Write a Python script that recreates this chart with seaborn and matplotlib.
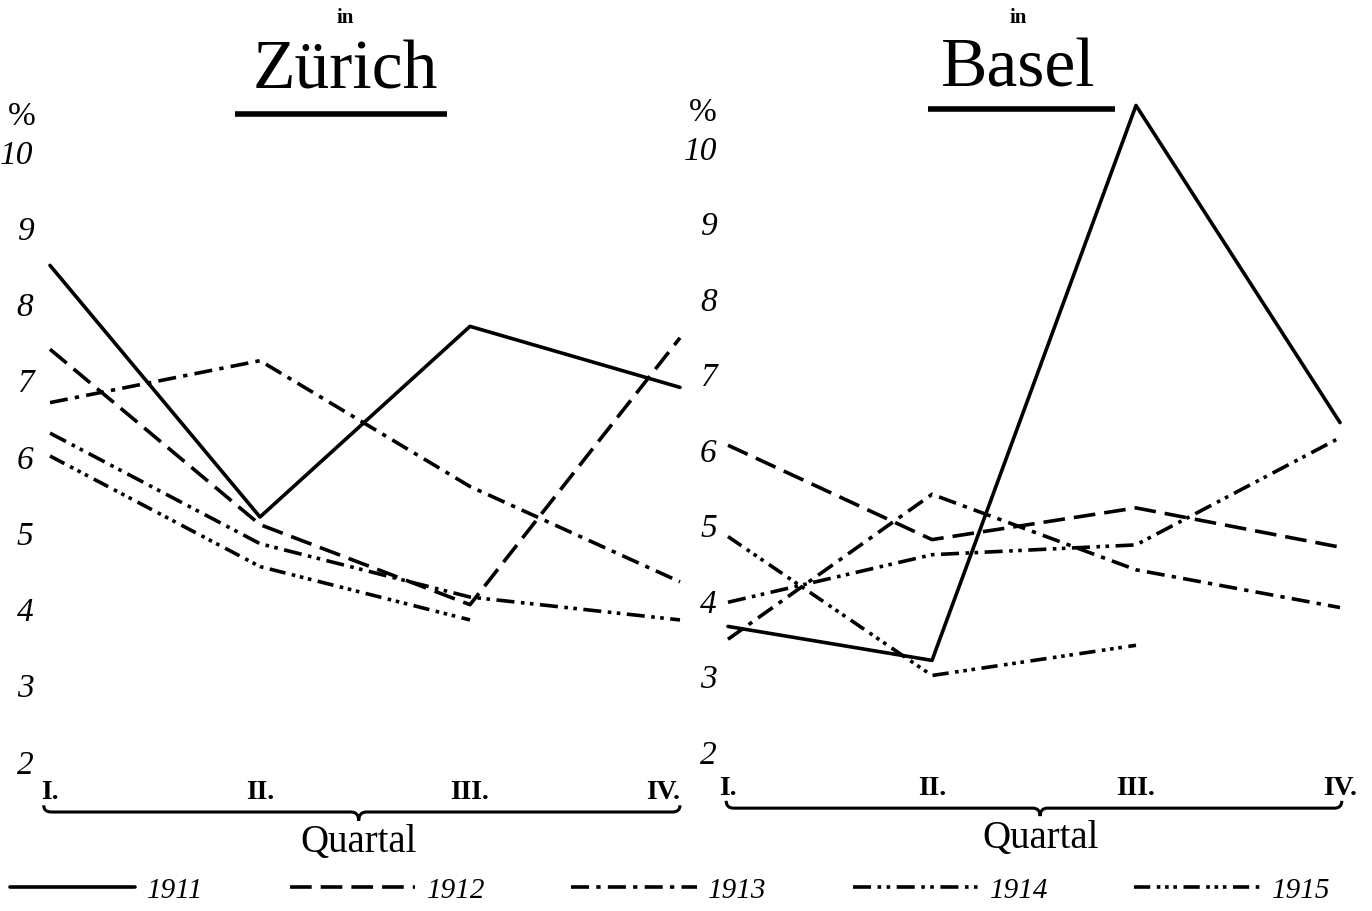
import numpy as np
import pandas as pd
import matplotlib
matplotlib.use("Agg")
import matplotlib.pyplot as plt
from matplotlib.path import Path
from matplotlib.patches import PathPatch
from matplotlib.lines import Line2D
import seaborn as sns

# ── data (percent per quarter) ───────────────
QUARTALS      = [1, 2, 3, 4]
QUARTAL_LBLS  = ["I.", "II.", "III.", "IV."]
YEARS         = ["1911", "1912", "1913", "1914", "1915"]
Y_TICKS       = [2, 3, 4, 5, 6, 7, 8, 9, 10]

zuerich_1911 = [8.5, 5.2, 7.7, 6.9]
zuerich_1912 = [7.4, 5.1, 4.05, 7.55]
zuerich_1913 = [6.7, 7.25, 5.6, 4.35]
zuerich_1914 = [6.3, 4.85, 4.15, 3.85]
zuerich_1915 = [6.0, 4.55, 3.85]

basel_1911 = [3.65, 3.2, 10.55, 6.35]
basel_1912 = [6.05, 4.8, 5.22, 4.7]
basel_1913 = [3.48, 5.4, 4.4, 3.9]
basel_1914 = [3.97, 4.6, 4.73, 6.15]
basel_1915 = [4.84, 3.0, 3.4]

DASHES = {
    "1911": "",
    "1912": (6, 2.5),
    "1913": (5, 2, 1.2, 2),
    "1914": (5, 1.8, 1, 1.5, 1, 1.8),
    "1915": (4.5, 1.8, 1, 1.3, 1, 1.3, 1, 1.8),
}


def to_long(series):
    rows = []
    for year, vals in zip(YEARS, series):
        for q, v in zip(QUARTALS, vals):
            rows.append({"quartal": q, "wert": v, "jahr": year})
    return pd.DataFrame(rows)


df_z = to_long([zuerich_1911, zuerich_1912, zuerich_1913, zuerich_1914, zuerich_1915])
df_b = to_long([basel_1911, basel_1912, basel_1913, basel_1914, basel_1915])

# ── style ────────────────────────────────────
sns.set_theme(style="white")
plt.rcParams["font.family"] = ["Liberation Serif", "DejaVu Serif"]
plt.rcParams["text.color"] = "black"
plt.rcParams["xtick.color"] = "black"
plt.rcParams["ytick.color"] = "black"

W, H = 1372, 912
fig = plt.figure(figsize=(W / 100, H / 100), dpi=100)


def px_axes(left, right, bottom, unit):
    height = 8.8 * unit
    return fig.add_axes([left / W, (H - bottom) / H, (right - left) / W, height / H])


ax_z = px_axes(50, 680, 762, 76.25)
ax_b = px_axes(728, 1340, 752, 75.5)


def brace(ax, x0, x1, xm, ytop, ymid, ytip, r=0.012):
    verts = [(x0, ytop), (x0, ymid), (x0 + r, ymid), (xm - r, ymid),
             (xm, ymid), (xm, ytip),
             (xm, ytip), (xm, ymid), (xm + r, ymid), (x1 - r, ymid),
             (x1, ymid), (x1, ytop)]
    codes = [Path.MOVETO, Path.CURVE3, Path.CURVE3, Path.LINETO,
             Path.CURVE3, Path.CURVE3,
             Path.MOVETO, Path.CURVE3, Path.CURVE3, Path.LINETO,
             Path.CURVE3, Path.CURVE3]
    patch = PathPatch(Path(verts, codes), facecolor="none", edgecolor="black",
                      lw=2.2, transform=ax.transAxes, clip_on=False)
    ax.add_patch(patch)


def draw_panel(ax, df, tick_pad_x, tick_pad_y, br, last_right):
    sns.lineplot(data=df, x="quartal", y="wert", style="jahr", style_order=YEARS,
                 dashes=DASHES, color="black", linewidth=2.6, legend=False,
                 sort=False, ax=ax)
    for ln in ax.lines:
        ln.set_clip_on(False)
    ax.set_xlim(1, 4)
    ax.set_ylim(2, 10.8)
    ax.set_xticks(QUARTALS)
    ax.set_xticklabels(QUARTAL_LBLS, fontsize=20, fontweight="bold")
    if last_right:
        ax.get_xticklabels()[-1].set_ha("right")
    ax.set_yticks(Y_TICKS)
    ax.set_yticklabels([str(t) for t in Y_TICKS], fontsize=24, style="italic")
    ax.tick_params(axis="x", length=0, pad=tick_pad_x)
    ax.tick_params(axis="y", length=0, pad=tick_pad_y)
    ax.set_xlabel("")
    ax.set_ylabel("")
    sns.despine(ax=ax, left=True, bottom=True)
    brace(ax, *br)
    ax.text(br[2], br[5] - 0.004, "Quartal", transform=ax.transAxes,
            ha="center", va="top", fontsize=28)


draw_panel(ax_z, df_z, 13, 12, (-0.01, 1.0, 0.49, -0.066, -0.076, -0.089), True)
draw_panel(ax_b, df_b, 17, 8, (-0.003, 1.003, 0.51, -0.075, -0.086, -0.098), False)

# ── titles ───────────────────────────────────
def title(cx, name, bar_x0, bar_x1, bar_y, name_y):
    fig.text(cx / W, 1 - 18 / H, "in", ha="center", va="center",
             fontsize=15, fontweight="bold")
    fig.text(cx / W, 1 - name_y / H, name, ha="center", va="center", fontsize=50)
    fig.add_artist(Line2D([bar_x0 / W, bar_x1 / W], [1 - bar_y / H, 1 - bar_y / H],
                          transform=fig.transFigure, color="black", lw=4.0,
                          solid_capstyle="butt"))


title(345, "Zürich", 235, 447, 115, 72)
title(1018, "Basel", 928, 1115, 110, 70)

fig.text(22 / W, 1 - 117 / H, "%", ha="center", va="center", fontsize=24)
fig.text(703 / W, 1 - 113 / H, "%", ha="center", va="center", fontsize=24)

# ── legend ───────────────────────────────────
leg = fig.legend(handles=ax_z.lines[:5], labels=YEARS, loc="center",
                 bbox_to_anchor=(670 / W, 1 - 891 / H), ncol=5, frameon=False,
                 handlelength=4.3, handletextpad=0.4, columnspacing=2.95,
                 prop={"size": 21, "style": "italic"})

fig.savefig("out.png", dpi=100)
